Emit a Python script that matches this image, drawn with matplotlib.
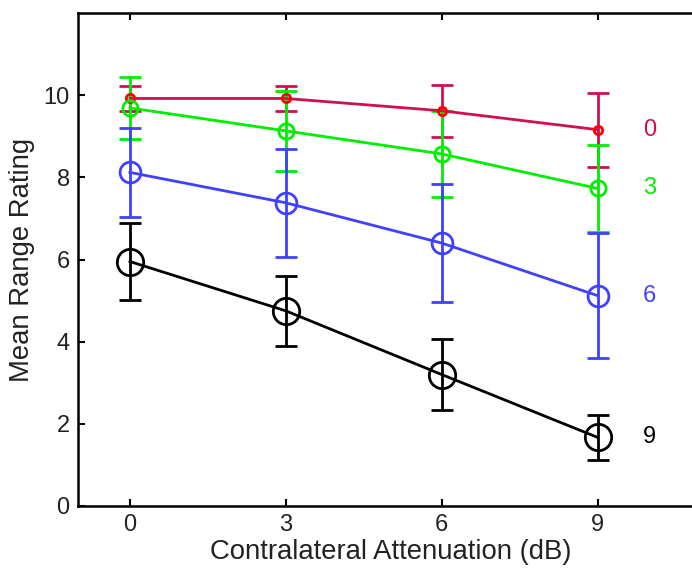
import matplotlib
matplotlib.use("Agg")
import matplotlib.pyplot as plt

plt.rcParams['font.family'] = ['Liberation Sans', 'DejaVu Sans']

x = [0, 3, 6, 9]
series_labels = ["0", "3", "6", "9"]
means = [
    [9.92, 9.92, 9.62, 9.16],
    [9.69, 9.13, 8.57, 7.73],
    [8.12, 7.38, 6.40, 5.12],
    [5.95, 4.75, 3.20, 1.67],
]
errs = [
    [0.30, 0.30, 0.63, 0.90],
    [0.76, 0.97, 1.05, 1.06],
    [1.08, 1.31, 1.43, 1.52],
    [0.94, 0.85, 0.86, 0.55],
]
line_colors = ["#D0104E", "#00EE00", "#4040FF", "#000000"]
marker_colors = ["#FF0000", "#00EE00", "#4040FF", "#000000"]
marker_sizes = [6, 11, 15, 19]

W, H = 692, 569
left_px, right_px = 78, 800
fig = plt.figure(figsize=(W / 100, H / 100), dpi=100)
ax = fig.add_axes([left_px / W, 63 / H, (right_px - left_px) / W, 493 / H])

for m, e, lc, mc, ms, lab in zip(means, errs, line_colors, marker_colors, marker_sizes, series_labels):
    ax.errorbar(x, m, yerr=e, color=lc, linewidth=2.0, elinewidth=2.0,
                capsize=8, capthick=2.0, marker='o', markersize=ms,
                markerfacecolor='none', markeredgecolor=mc, markeredgewidth=2.0)
    ax.text(10, m[-1], lab, color=lc, fontsize=17, ha='center', va='center')

px_per_unit = 51.96
ax.set_xlim(-1, -1 + (right_px - left_px) / px_per_unit)
ax.set_ylim(0, 12)
ax.set_xticks(x)
ax.set_yticks([0, 2, 4, 6, 8, 10])
ax.tick_params(direction='in', length=5, width=1.5, labelsize=17, top=True, right=False, pad=6,
               labelcolor='#222222')
ax.spines['right'].set_visible(False)
for s in ax.spines.values():
    s.set_linewidth(1.8)
ax.set_xlabel("Contralateral Attenuation (dB)", fontsize=19.8, color='#222222')
ax.xaxis.set_label_coords((391 - left_px) / (right_px - left_px), -0.067)
ax.set_ylabel("Mean Range Rating", fontsize=19.8, labelpad=6, color='#222222')

fig.savefig("out.png", dpi=100)
